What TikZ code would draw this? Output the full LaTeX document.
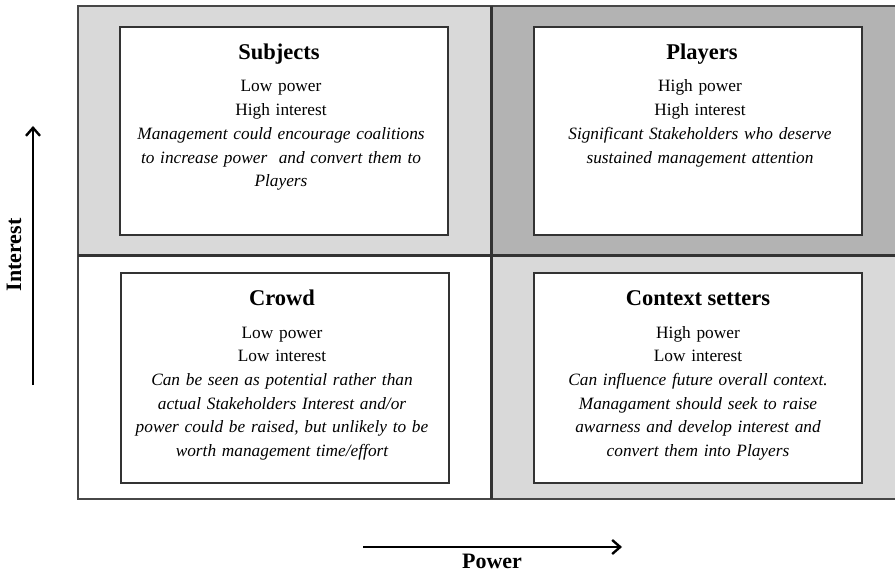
\documentclass[tikz,border=0pt]{standalone}
\usepackage{fontspec}
\setmainfont{Liberation Serif}
\usetikzlibrary{arrows.meta}
\definecolor{paleshade}{HTML}{D9D9D9}
\definecolor{deepshade}{HTML}{B3B3B3}
\definecolor{rulegray}{HTML}{333333}

\begin{document}
\begin{tikzpicture}[x=1pt,y=-1pt,
  quad/.style={anchor=north west, inner sep=0pt, outer sep=0pt, draw=none},
  card/.style={draw=rulegray, line width=1.3pt, fill=white, anchor=north west,
    inner sep=0pt, outer sep=0pt, minimum width=328pt, minimum height=208pt},
  heading/.style={anchor=base, inner sep=0pt, font=\fontsize{22.5}{27}\selectfont\bfseries},
  body/.style={anchor=base, inner sep=0pt, text width=330pt, align=center,
    font=\fontsize{17.3}{23.7}\selectfont},
  axislabel/.style={inner sep=0pt, font=\fontsize{22}{26}\selectfont\bfseries},
  axisarrow/.style={line width=2.4pt, -{Straight Barb[length=8pt,width=14pt]}}
]
\useasboundingbox (0,0) rectangle (895,572);

% the four quadrants of the grid
\node[quad, fill=paleshade, minimum width=413pt, minimum height=250pt] (subjectsq) at (78,6) {};
\node[quad, fill=deepshade, minimum width=406pt, minimum height=250pt] (playersq) at (491,6) {};
\node[quad, fill=white,     minimum width=413pt, minimum height=243pt] (crowdq) at (78,256) {};
\node[quad, fill=paleshade, minimum width=406pt, minimum height=243pt] (contextq) at (491,256) {};

% outer frame and dividing lines
\draw[line width=1.2pt, draw=rulegray!90] (subjectsq.north west) rectangle (contextq.south east);
\draw[line width=3pt, draw=rulegray] (subjectsq.north east) -- (crowdq.south east);
\draw[line width=3pt, draw=rulegray] (subjectsq.south west) -- (playersq.south east);

% white cards
\node[card] (subjects) at (120,27) {};
\node[card] (players)  at (534,27) {};
\node[card, minimum height=210pt] (crowd)   at (121,273) {};
\node[card, minimum height=210pt] (context) at (534,273) {};

% Subjects
\node[heading] (subjectsT) at (279,60) {Subjects};
\node[body] (subjectsB) at (281,92) {Low power\\High interest\\\itshape
  Management could encourage coalitions\\to increase power\ \ and convert them to\\Players};

% Players
\node[heading] (playersT) at (702,60) {Players};
\node[body] (playersB) at (700,92) {High power\\High interest\\\itshape
  Significant Stakeholders who deserve\\sustained management attention};

% Crowd
\node[heading] (crowdT) at (282,306) {Crowd};
\node[body] (crowdB) at (282,338) {Low power\\Low interest\\\itshape
  Can be seen as potential rather than\\actual Stakeholders Interest and/or\\power could be raised, but unlikely to be\\worth management time/effort};

% Context setters
\node[heading] (contextT) at (698,306) {Context setters};
\node[body] (contextB) at (698,338) {High power\\Low interest\\\itshape
  Can influence future overall context.\\Managament should seek to raise\\awarness and develop interest and\\convert them into Players};

% axes
\coordinate (interestfrom) at (33,385);
\coordinate (interestto) at (33,126);
\draw[axisarrow] (interestfrom) -- (interestto);
\node[axislabel, rotate=90] (interest) at (14,255) {Interest};

\coordinate (powerfrom) at (363,547);
\coordinate (powerto) at (622,547);
\draw[axisarrow] (powerfrom) -- (powerto);
\node[axislabel, anchor=base] (power) at (492,568) {Power};
\end{tikzpicture}
\end{document}
